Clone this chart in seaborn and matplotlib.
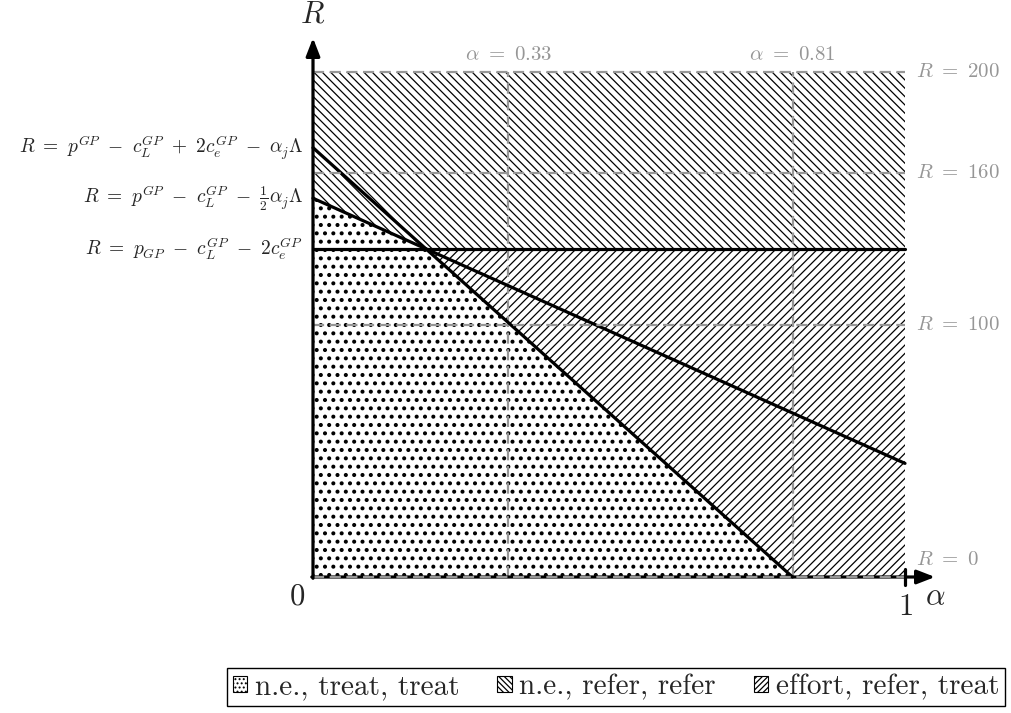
import numpy as np
import pandas as pd
import matplotlib
matplotlib.use("Agg")
import matplotlib.pyplot as plt
from matplotlib.patches import Patch
import seaborn as sns

# ---------------- data ----------------
# region boundaries (piecewise linear between knots)
alpha_knots = [0.0, 0.19, 0.81, 1.0]
treat_top = [150, 130, 0, 0]          # upper edge of "n.e., treat, treat"
refer_bottom = [150, 130, 130, 130]   # lower edge of "n.e., refer, refer"
R_max = 200

# boundary lines
line1_alpha = [0.0, 0.81]
line1_R = [170, 0]
line2_alpha = [0.0, 1.0]
line2_R = [150, 45]
line3_alpha = [0.0, 1.0]
line3_R = [130, 130]

boundary_labels = [
    r"$R\ =\ p^{GP}\ -\ c_L^{GP}\ +\ 2c_e^{GP}\ -\ \alpha_j\Lambda$",
    r"$R\ =\ p^{GP}\ -\ c_L^{GP}\ -\ \frac{1}{2}\alpha_j\Lambda$",
    r"$R\ =\ p_{GP}\ -\ c_L^{GP}\ -\ 2c_e^{GP}$",
]
boundary_label_R = [170, 150, 130]

ref_R = [200, 160, 100, 0]
ref_R_labels = [r"$R\ =\ 200$", r"$R\ =\ 160$", r"$R\ =\ 100$", r"$R\ =\ 0$"]
ref_alpha = [0.33, 0.81]
ref_alpha_labels = [r"$\alpha\ =\ 0.33$", r"$\alpha\ =\ 0.81$"]

legend_labels = ["n.e., treat, treat", "n.e., refer, refer", "effort, refer, treat"]

# ---------------- style ----------------
sns.set_theme(style="white")
plt.rcParams["mathtext.fontset"] = "cm"
plt.rcParams["font.family"] = ["cmr10", "DejaVu Serif"]
plt.rcParams["axes.unicode_minus"] = False
plt.rcParams["hatch.linewidth"] = 0.9
plt.rcParams["hatch.color"] = "black"

GRAY = "#969696"

fig = plt.figure(figsize=(10.11, 7.13), dpi=100)
ax = fig.add_axes([0, 0, 1, 1])
# pixel mapping: alpha 0 -> x=313, 1 -> x=905 ; R 0 -> y=577, 200 -> y=72
PX = 592.0
PY = 2.525
ax.set_xlim(-313 / PX, (1011 - 313) / PX)
ax.set_ylim(-(713 - 577) / PY, 577 / PY)
ax.axis("off")

# regions
with plt.rc_context({"hatch.linewidth": 1.7}):
    ax.fill_between(alpha_knots, [0] * len(alpha_knots), treat_top,
                    facecolor="white", edgecolor="black", hatch="..", linewidth=0, zorder=1)
ax.fill_between(alpha_knots, treat_top, refer_bottom,
                facecolor="white", edgecolor="black", hatch="////", linewidth=0, zorder=1)
ax.fill_between(alpha_knots, refer_bottom, [R_max] * len(alpha_knots),
                facecolor="white", edgecolor="black", hatch="\\\\\\\\", linewidth=0, zorder=1)

# reference dashed lines
ax.hlines(ref_R, 0, 1, colors=GRAY, linestyles=(0, (5, 2.5)), linewidth=1.6, zorder=5)
ax.vlines(ref_alpha, 0, R_max, colors=GRAY, linestyles=(0, (5, 2.5)), linewidth=1.6, zorder=3)

# boundary lines via seaborn
df = pd.concat([
    pd.DataFrame({"alpha": line1_alpha, "R": line1_R, "line": "l1"}),
    pd.DataFrame({"alpha": line2_alpha, "R": line2_R, "line": "l2"}),
    pd.DataFrame({"alpha": line3_alpha, "R": line3_R, "line": "l3"}),
])
sns.lineplot(data=df, x="alpha", y="R", units="line", estimator=None, sort=False,
             color="black", linewidth=2.3, ax=ax, zorder=4, legend=False)

# axes with arrows
ax.annotate("", xy=(0, (577 - 38) / PY), xytext=(0, -0.5),
            arrowprops=dict(arrowstyle="-|>,head_length=0.9,head_width=0.35",
                            lw=2.3, color="black", shrinkA=0, shrinkB=0), zorder=6)
ax.annotate("", xy=((935 - 313) / PX, 0), xytext=(-0.002, 0),
            arrowprops=dict(arrowstyle="-|>,head_length=0.9,head_width=0.35",
                            lw=2.3, color="black", shrinkA=0, shrinkB=0), zorder=4)
ax.plot([1, 1], [-3, 3], color="black", lw=2.3, zorder=6)

# axis labels
ax.text(0, (577 - 15) / PY, "$R$", fontsize=22, ha="center", va="center")
ax.text((935 - 313) / PX, (577 - 597) / PY, r"$\alpha$", fontsize=22, ha="center", va="center")
ax.text((297 - 313) / PX, (577 - 597) / PY, "$0$", fontsize=22, ha="center", va="center")
ax.text(1.0, (577 - 607) / PY, "$1$", fontsize=22, ha="center", va="center")

# reference labels
for r, lab in zip(ref_R, ref_R_labels):
    y = r if r > 0 else (577 - 560) / PY
    ax.text((916 - 313) / PX, y, lab, color=GRAY, fontsize=15, ha="left", va="center")
for a, lab in zip(ref_alpha, ref_alpha_labels):
    ax.text(a, (577 - 55) / PY, lab, color=GRAY, fontsize=15, ha="center", va="center")

# boundary labels
for r, lab in zip(boundary_label_R, boundary_labels):
    ax.text((303 - 313) / PX, r, lab, fontsize=14, ha="right", va="center")

# legend
handles = [
    Patch(facecolor="white", edgecolor="black", hatch="....", linewidth=0.8),
    Patch(facecolor="white", edgecolor="black", hatch="\\\\\\\\\\\\", linewidth=0.8),
    Patch(facecolor="white", edgecolor="black", hatch="//////", linewidth=0.8),
]
leg = fig.legend(handles, legend_labels, loc="center", ncol=3,
                 bbox_to_anchor=(616 / 1011, 1 - 687 / 713),
                 fontsize=21, frameon=True, fancybox=False, edgecolor="black",
                 framealpha=1, handlelength=0.5, handleheight=0.5,
                 handletextpad=0.25, columnspacing=1.3, borderpad=0.2)
leg.get_frame().set_linewidth(1.0)

fig.savefig("out.png", dpi=100)
